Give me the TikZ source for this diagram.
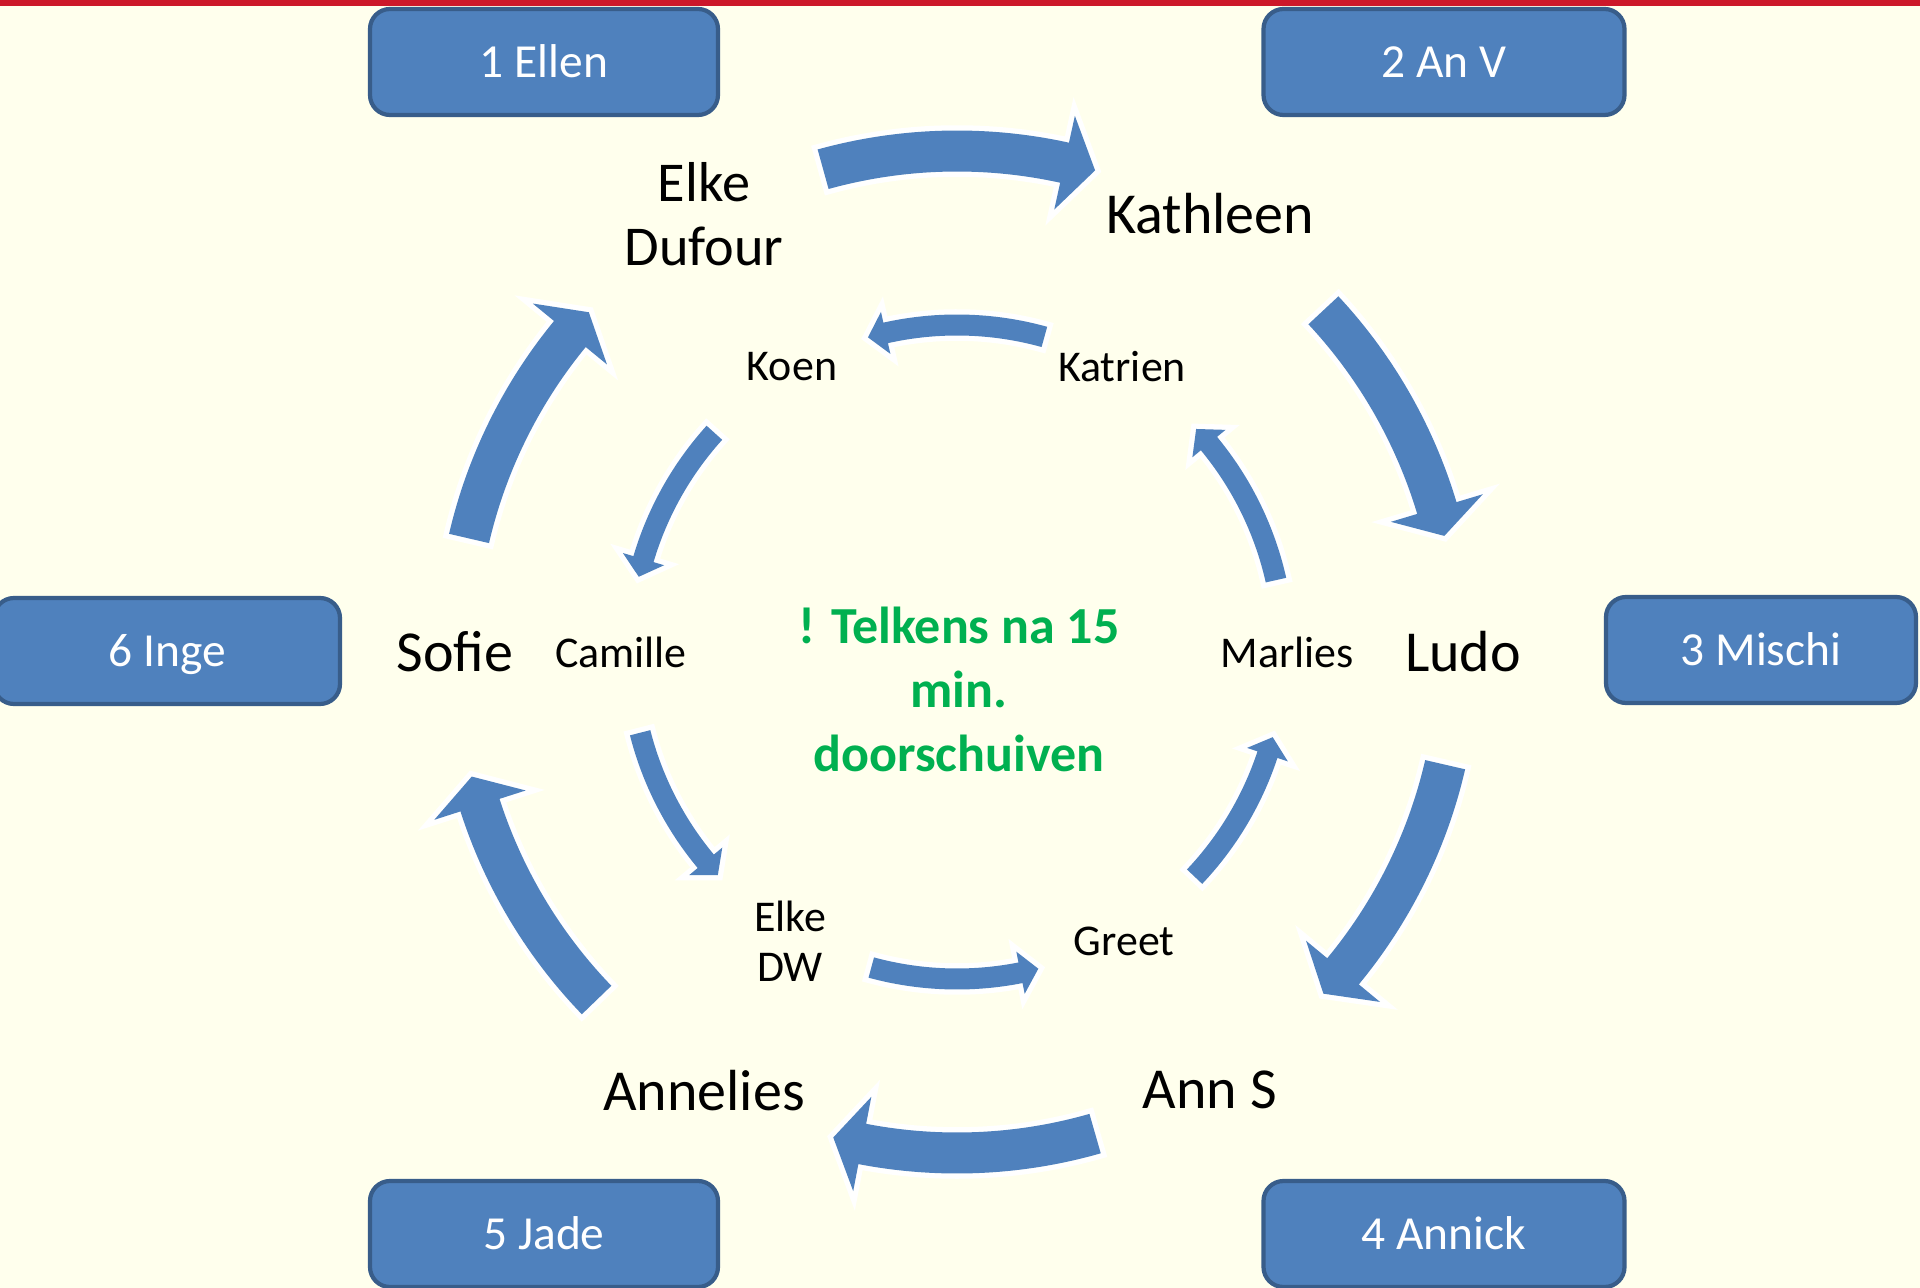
\documentclass[tikz,border=0pt]{standalone}
\usepackage{fontspec}
\setmainfont{Carlito}

\definecolor{paper}{RGB}{255,255,237}
\definecolor{topred}{RGB}{204,24,42}
\definecolor{tableblue}{RGB}{79,129,189}
\definecolor{tableline}{RGB}{56,93,138}
\definecolor{notegreen}{RGB}{0,176,80}

% ring arrow: radius, half width, head half width, tail angle, head base angle, tip angle
\newcommand{\ringarrow}[6]{%
  \pgfmathsetmacro\arcout{#1+#2}%
  \pgfmathsetmacro\arcin{#1-#2}%
  \pgfmathsetmacro\headout{#1+#3}%
  \pgfmathsetmacro\headin{#1-#3}%
  \foreach \look in {arrowedge, arrowbody}{
    \path[\look] (#4:\arcout) arc[start angle=#4, end angle=#5, radius=\arcout]
      -- (#5:\headout) -- (#6:#1) -- (#5:\headin) -- (#5:\arcin)
      arc[start angle=#5, end angle=#4, radius=\arcin] -- cycle;
  }%
}

\begin{document}
\begin{tikzpicture}
        \tikzstyle{arrowedge}=[draw=white, line width=3pt]
        \tikzstyle{arrowbody}=[fill=tableblue]
        \tikzstyle{tablebox}=[rectangle, rounded corners=0.2cm, fill=tableblue, draw=tableline,
            line width=1.2pt, text=white, inner sep=0pt, text height=0.42cm, text depth=0.11cm,
            font=\fontsize{13.5}{16}\selectfont]
        \tikzstyle{outername}=[align=center, font=\fontsize{16.5}{20}\selectfont]
        \tikzstyle{innername}=[align=center, font=\fontsize{12.5}{14.5}\selectfont]

        \useasboundingbox (-9.57,-6.36) rectangle (9.63,6.52);
        \fill[paper] (-9.57,-6.36) rectangle (9.63,6.52);
        \fill[topred] (-9.57,6.46) rectangle (9.63,6.52);

        \node[tablebox, minimum width=3.48cm, minimum height=1.06cm] (table1) at (-4.13,5.90) {1 Ellen};
        \node[tablebox, minimum width=3.61cm, minimum height=1.06cm] (table2) at (4.87,5.90) {2 An V};
        \node[tablebox, minimum width=3.10cm, minimum height=1.06cm] (table3) at (8.04,0.02) {3 Mischi};
        \node[tablebox, minimum width=3.61cm, minimum height=1.06cm] (table4) at (4.87,-5.82) {4 Annick};
        \node[tablebox, minimum width=3.48cm, minimum height=1.06cm] (table5) at (-4.13,-5.82) {5 Jade};
        \node[tablebox, minimum width=3.46cm, minimum height=1.06cm] (table6) at (-7.90,0.01) {6 Inge};

        \node[outername, font=\fontsize{16}{18.2}\selectfont] (elkedufour) at (120:5.06) {Elke\\Dufour};
        \node[outername] (kathleen) at (60:5.06) {Kathleen};
        \node[outername] (ludo) at (0:5.06) {Ludo};
        \node[outername] (anns) at (-60:5.06) {Ann S};
        \node[outername] (annelies) at (-120:5.06) {Annelies};
        \node[outername] (sofie) at (180:5.02) {Sofie};

        \node[innername] (koen) at (120:3.3) {Koen};
        \node[innername] (katrien) at (60:3.3) {Katrien};
        \node[innername] (marlies) at (0:3.3) {Marlies};
        \node[innername] (greet) at (-60:3.34) {Greet};
        \node[innername] (elkedw) at (-120:3.34) {Elke\\DW};
        \node[innername] (camille) at (180:3.36) {Camille};

        \node[align=center, text=notegreen, font=\bfseries\fontsize{14.8}{18.2}\selectfont] (note) at (0.02,-0.37)
            {! Telkens na 15\\min.\\doorschuiven};

        \ringarrow{5.01}{0.205}{0.48}{105.5}{77.6}{74.0}
        \ringarrow{5.01}{0.205}{0.48}{43.0}{16.7}{13.4}
        \ringarrow{5.01}{0.205}{0.48}{-13.0}{-39.6}{-43.0}
        \ringarrow{5.01}{0.205}{0.48}{-74.0}{-100.9}{-104.3}
        \ringarrow{5.01}{0.205}{0.48}{-136.0}{-162.2}{-165.6}
        \ringarrow{5.01}{0.205}{0.48}{166.9}{140.6}{137.3}

        \ringarrow{3.27}{0.105}{0.215}{74.5}{102.6}{105.8}
        \ringarrow{3.27}{0.105}{0.215}{137.9}{163.5}{166.7}
        \ringarrow{3.27}{0.105}{0.215}{194.3}{219.8}{223.0}
        \ringarrow{3.27}{0.105}{0.215}{254.8}{281.2}{284.4}
        \ringarrow{3.27}{0.105}{0.215}{316.6}{341.7}{344.9}
        \ringarrow{3.27}{0.105}{0.215}{12.7}{39.6}{43.0}
    \end{tikzpicture}
\end{document}
